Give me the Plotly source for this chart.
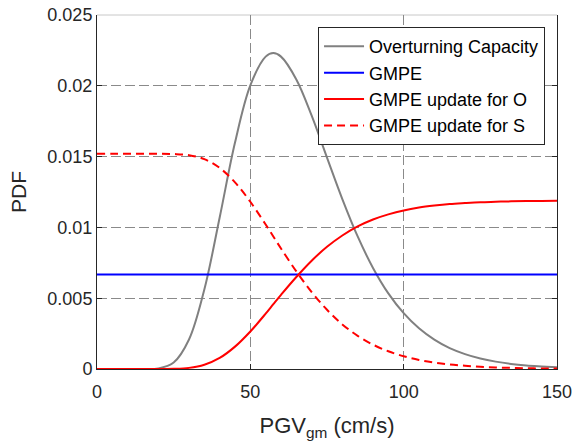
import plotly.graph_objects as go

# PGV grid (cm/s)
pgv = [0, 5, 10, 15, 20, 25, 30, 35, 40, 45, 50, 55, 57.5, 60, 65, 70, 75, 80, 85, 90,
       95, 100, 105, 110, 115, 120, 125, 130, 135, 140, 145, 150]

overturning_capacity = [0, 0, 0, 0.000001, 0.000043, 0.000456, 0.00208, 0.00561, 0.0107, 0.01599,
                        0.02003, 0.02206, 0.02231, 0.02206, 0.02045, 0.01789, 0.01493, 0.0120, 0.00936, 0.00714,
                        0.00534, 0.00394, 0.00287, 0.00207, 0.00147, 0.00105, 0.00074, 0.00052, 0.00036, 0.00025,
                        0.00018, 0.00012]

gmpe = [0.00667] * len(pgv)

gmpe_update_o = [0, 0, 0, 0, 0.000001, 0.000012, 0.000079, 0.000298, 0.00078, 0.00158,
                 0.00265, 0.00391, 0.00458, 0.00524, 0.0065, 0.00765, 0.00863, 0.00943, 0.01007, 0.01056,
                 0.01092, 0.0112, 0.0114, 0.01154, 0.01165, 0.01172, 0.01178, 0.01181, 0.01184, 0.01186,
                 0.01187, 0.01188]

gmpe_update_s = [0.0152, 0.0152, 0.0152, 0.0152, 0.0152, 0.01518, 0.0151, 0.01482, 0.0142, 0.01318,
                 0.01181, 0.0102, 0.00936, 0.00851, 0.00689, 0.00543, 0.00418, 0.00315, 0.00234, 0.00172,
                 0.00125, 0.0009, 0.00064, 0.00046, 0.00032, 0.00023, 0.00016, 0.00011, 0.00008, 0.00005,
                 0.00004, 0.00003]

x_ticks = [0, 50, 100, 150]
y_ticks = [0, 0.005, 0.01, 0.015, 0.02, 0.025]
y_tick_labels = ["0", "0.005", "0.01", "0.015", "0.02", "0.025"]

FONT = "Liberation Sans, Arial, sans-serif"

fig = go.Figure()
fig.add_trace(go.Scatter(x=pgv, y=overturning_capacity, mode="lines", name="Overturning Capacity",
                         line=dict(color="#808080", width=2, shape="spline")))
fig.add_trace(go.Scatter(x=pgv, y=gmpe, mode="lines", name="GMPE",
                         line=dict(color="#0000ff", width=2)))
fig.add_trace(go.Scatter(x=pgv, y=gmpe_update_o, mode="lines", name="GMPE update for O",
                         line=dict(color="#ff0000", width=2, shape="spline")))
fig.add_trace(go.Scatter(x=pgv, y=gmpe_update_s, mode="lines", name="GMPE update for S",
                         line=dict(color="#ff0000", width=2, dash="8px,5px", shape="spline")))

grid_style = dict(showgrid=True, gridcolor="#8a8a8a", gridwidth=1, griddash="10px,4px")

fig.update_xaxes(range=[0, 150], tickvals=x_ticks, ticks="inside", ticklen=5, tickcolor="#262626",
                 showline=True, linecolor="#262626", linewidth=1, mirror=False, zeroline=False,
                 automargin=False, ticklabelstandoff=6,
                 tickfont=dict(family=FONT, size=18, color="#262626"),
                 title=dict(text="PGV<sub>gm</sub> (cm/s)", font=dict(family=FONT, size=22, color="#262626"),
                            standoff=18),
                 **grid_style)
fig.update_yaxes(range=[0, 0.025], tickvals=y_ticks, ticktext=y_tick_labels, ticks="inside", ticklen=5,
                 tickcolor="#262626", showline=True, linecolor="#262626", linewidth=1, mirror="ticks",
                 zeroline=False, automargin=False, tickfont=dict(family=FONT, size=18, color="#262626"),
                 title=dict(text="PDF", font=dict(family=FONT, size=21, color="#262626")),
                 **grid_style)

fig.add_shape(type="line", xref="paper", yref="paper", x0=0, x1=1, y0=1, y1=1,
              line=dict(color="#c8c8c8", width=1), layer="below")

fig.update_layout(
    width=574, height=441,
    margin=dict(l=97, r=17, t=15, b=72),
    paper_bgcolor="white", plot_bgcolor="white",
    font=dict(family=FONT, color="#262626"),
    legend=dict(x=0.974, y=0.966, xanchor="right", yanchor="top",
                bgcolor="white", bordercolor="#262626", borderwidth=1,
                font=dict(family=FONT, size=18, color="#000000"),
                itemwidth=40, tracegroupgap=0),
    showlegend=True,
)

fig.write_html("out.html", config={"displayModeBar": False},
               post_script="document.body.style.margin='0';document.body.style.overflow='hidden';")
